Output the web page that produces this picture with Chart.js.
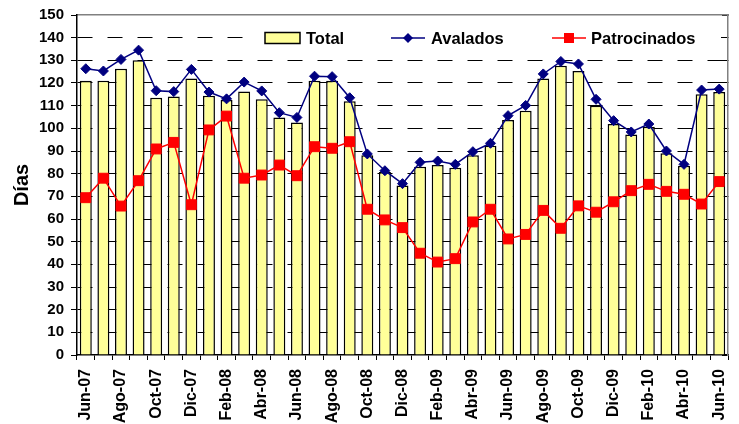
<!DOCTYPE html>
<html>
<head>
    <title>Días - Total, Avalados, Patrocinados</title>
    <script src="https://cdn.jsdelivr.net/npm/chart.js"></script>
    <style>
        body { margin: 0; background: #fff; }
        #wrap { width: 739px; height: 424px; }
    </style>
</head>
<body>
    <div id="wrap"><canvas id="diasChart"></canvas></div>

    <script>
        // Data
        const months = ['Jun-07','Jul-07','Ago-07','Sep-07','Oct-07','Nov-07','Dic-07','Ene-08','Feb-08','Mar-08',
                        'Abr-08','May-08','Jun-08','Jul-08','Ago-08','Sep-08','Oct-08','Nov-08','Dic-08','Ene-09',
                        'Feb-09','Mar-09','Abr-09','May-09','Jun-09','Jul-09','Ago-09','Sep-09','Oct-09','Nov-09',
                        'Dic-09','Ene-10','Feb-10','Mar-10','Abr-10','May-10','Jun-10'];
        const total = [121,121,126.3,130,113.5,114,122,114.4,112.5,116.3,112.8,104.8,102.6,121,121,112,88.1,80.7,74.8,83.1,
                       83.8,82.6,88.1,92.3,103.7,107.8,122,127.6,125.3,110,101.9,97.3,100.7,89,83.5,115,116];
        const avalados = [126.3,125.3,130.4,134.5,116.6,116.2,126,116,113,120.4,116.5,106.9,104.8,123,122.8,113.5,88.7,81.3,75.6,85,
                          85.6,84.1,89.7,93.4,105.6,110.1,124,129.5,128.4,112.8,103.4,98.4,101.9,90,84.1,116.9,117.3];
        const patrocinados = [69.4,78,65.7,76.9,90.9,93.8,66.3,99.3,105.4,78,79.4,83.8,79.1,91.9,91.2,94.1,64.3,59.6,56.2,44.9,
                              41,42.5,58.7,64.3,51.2,53.2,63.8,55.9,65.8,63,67.6,72.5,75.3,72.2,70.9,66.6,76.5];
        const yTicks = { min: 0, max: 150, step: 10 };

        const FONT = '"Liberation Sans", Arial, sans-serif';

        // legend sits inside the plot, on a white box over the gridlines
        const insideLegend = {
            id: 'insideLegend',
            beforeDatasetsDraw(chart) {
                const ctx = chart.ctx;
                const a = chart.chartArea;
                const ds = chart.data.datasets;
                ctx.save();
                ctx.fillStyle = '#fff';
                ctx.fillRect(a.left + 167, a.top + 9, 477, 28);

                ctx.font = 'bold 16.5px ' + FONT;
                ctx.fillStyle = '#000';
                ctx.textBaseline = 'alphabetic';
                const cy = a.top + 23;

                // Total
                ctx.fillStyle = ds[0].backgroundColor;
                ctx.fillRect(a.left + 188, cy - 5.5, 35, 11);
                ctx.strokeStyle = '#000';
                ctx.lineWidth = 1.5;
                ctx.strokeRect(a.left + 188, cy - 5.5, 35, 11);
                ctx.fillStyle = '#000';
                ctx.fillText(ds[0].label, a.left + 229, cy + 6);

                // Avalados
                ctx.strokeStyle = ds[1].borderColor;
                ctx.beginPath();
                ctx.moveTo(a.left + 314, cy);
                ctx.lineTo(a.left + 348, cy);
                ctx.stroke();
                ctx.fillStyle = ds[1].borderColor;
                ctx.beginPath();
                const dx = a.left + 331;
                ctx.moveTo(dx, cy - 5);
                ctx.lineTo(dx + 5, cy);
                ctx.lineTo(dx, cy + 5);
                ctx.lineTo(dx - 5, cy);
                ctx.closePath();
                ctx.fill();
                ctx.fillStyle = '#000';
                ctx.fillText(ds[1].label, a.left + 354, cy + 6);

                // Patrocinados
                ctx.strokeStyle = ds[2].borderColor;
                ctx.beginPath();
                ctx.moveTo(a.left + 475, cy);
                ctx.lineTo(a.left + 509, cy);
                ctx.stroke();
                ctx.fillStyle = ds[2].borderColor;
                ctx.fillRect(a.left + 487, cy - 5, 10, 10);
                ctx.fillStyle = '#000';
                ctx.fillText(ds[2].label, a.left + 514, cy + 6);
                ctx.restore();
            }
        };

        const ctx = document.getElementById('diasChart').getContext('2d');
        const chart = new Chart(ctx, {
            type: 'bar',
            data: {
                labels: months,
                datasets: [
                    {
                        label: 'Total',
                        data: total,
                        backgroundColor: '#FFFF99',
                        borderColor: '#000',
                        borderWidth: 1.5,
                        barPercentage: 0.68,
                        categoryPercentage: 1,
                        order: 3
                    },
                    {
                        type: 'line',
                        label: 'Avalados',
                        data: avalados,
                        borderColor: '#000080',
                        backgroundColor: '#000080',
                        borderWidth: 1.5,
                        pointStyle: 'rectRot',
                        pointRadius: 5,
                        pointBorderWidth: 1,
                        tension: 0,
                        order: 2
                    },
                    {
                        type: 'line',
                        label: 'Patrocinados',
                        data: patrocinados,
                        borderColor: '#FF0000',
                        backgroundColor: '#FF0000',
                        borderWidth: 1.5,
                        pointStyle: 'rect',
                        pointRadius: 7,
                        pointBorderWidth: 1,
                        tension: 0,
                        order: 1
                    }
                ]
            },
            options: {
                responsive: true,
                maintainAspectRatio: false,
                animation: false,
                layout: { padding: { left: 0, right: 11, top: 15, bottom: 0 } },
                plugins: {
                    legend: { display: false },
                    tooltip: { enabled: false }
                },
                scales: {
                    x: {
                        offset: true,
                        grid: {
                            offset: true,
                            drawOnChartArea: false,
                            tickLength: 5,
                            tickColor: '#000'
                        },
                        border: { color: '#000', width: 1.5 },
                        ticks: {
                            autoSkip: false,
                            minRotation: 90,
                            maxRotation: 90,
                            padding: 9,
                            color: '#000',
                            font: { family: FONT, size: 16, weight: 'bold' },
                            callback: function (v, i) { return i % 2 === 0 ? months[i] : ''; }
                        },
                        afterFit: function (s) { s.height = 69; s.paddingLeft = 0; s.paddingRight = 0; }
                    },
                    x2: {
                        position: 'top',
                        offset: true,
                        grid: { display: false },
                        ticks: { display: false },
                        border: { color: '#808080', width: 1.5 },
                        afterFit: function (s) { s.height = 0; s.paddingLeft = 0; s.paddingRight = 0; }
                    },
                    y: {
                        min: yTicks.min,
                        max: yTicks.max,
                        grid: {
                            color: c => (c.tick && (c.tick.value === 150 || c.tick.value === 0)) ? 'rgba(0,0,0,0)' : '#000',
                            lineWidth: 1,
                            tickLength: 6,
                            tickColor: '#000',
                            tickBorderDash: []
                        },
                        border: { color: '#000', width: 1.5, dash: [15, 15] },
                        ticks: {
                            stepSize: yTicks.step,
                            padding: 7,
                            color: '#000',
                            font: { family: FONT, size: 15, weight: 'bold' }
                        },
                        title: {
                            display: true,
                            text: 'Días',
                            color: '#000',
                            font: { family: FONT, size: 20, weight: 'bold' },
                            padding: { top: 10, bottom: 0 }
                        },
                        afterFit: function (s) { s.width = 77; s.paddingTop = 0; s.paddingBottom = 0; }
                    },
                    y2: {
                        position: 'right',
                        min: yTicks.min,
                        max: yTicks.max,
                        grid: {
                            drawOnChartArea: false,
                            tickLength: -6,
                            tickColor: '#000'
                        },
                        border: { color: '#808080', width: 1.5 },
                        ticks: { stepSize: yTicks.step, display: false },
                        afterFit: function (s) { s.width = 0; s.paddingTop = 0; s.paddingBottom = 0; }
                    }
                }
            },
            plugins: [insideLegend]
        });
    </script>
</body>
</html>
